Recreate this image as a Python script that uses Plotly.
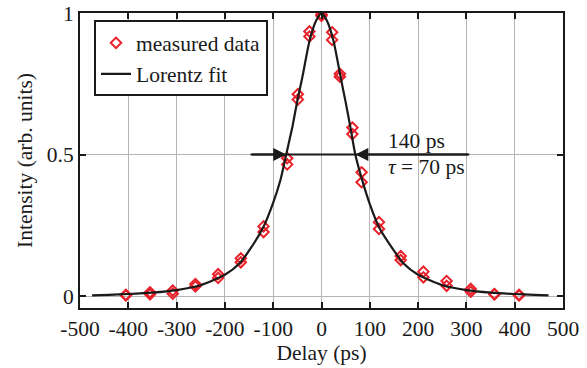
import plotly.graph_objects as go

# ---- data ----
delays = [-405, -355, -308, -261, -214, -167, -120, -71, -49, -25, 0, 22, 38, 64, 83, 119, 164, 211, 259, 309, 358, 409]
scan_a = [0.004, 0.013, 0.019, 0.042, 0.077, 0.133, 0.246, 0.487, 0.713, 0.935, 0.995, 0.932, 0.785, 0.595, 0.437, 0.261, 0.141, 0.086, 0.053, 0.025, 0.007, 0.004]
scan_b = [0.002, 0.006, 0.008, 0.034, 0.064, 0.119, 0.226, 0.465, 0.694, 0.917, 0.990, 0.905, 0.775, 0.572, 0.402, 0.237, 0.127, 0.066, 0.036, 0.015, 0.006, 0.002]

fit_delay = [-475, -440, -400, -350, -300, -250, -200, -170, -150, -120, -100, -85, -73, -60, -50, -40, -25, -12, 0,
             12, 25, 40, 50, 60, 70, 85, 100, 120, 150, 170, 200, 250, 300, 350, 400, 440, 470]
fit_intensity = [0.002, 0.004, 0.007, 0.012, 0.021, 0.038, 0.075, 0.115, 0.160, 0.245, 0.330, 0.410, 0.500, 0.600, 0.690, 0.770, 0.900, 0.970, 1.000,
                 0.970, 0.900, 0.770, 0.685, 0.595, 0.500, 0.405, 0.325, 0.240, 0.160, 0.115, 0.075, 0.038, 0.021, 0.012, 0.007, 0.004, 0.002]

x_ticks = [-500, -400, -300, -200, -100, 0, 100, 200, 300, 400, 500]
x_tick_text = ["-500", "-400", "-300", "-200", "-100", "0", "100", "200", "300", "400", "500"]
y_ticks = [0, 0.5, 1]
y_tick_text = ["0", "0.5", "1"]

half_max = 0.5
fwhm_left, fwhm_right = -73, 70
arrow_extent = [-147, 306]
label_x = 133
label_fwhm = "140 ps"
label_tau = "<i>τ</i> = 70 ps"

FONT = "Liberation Serif"
FS = 21.5
RED = "#e8212b"
INK = "#1a1a1a"

fig = go.Figure()
fig.add_trace(go.Scatter(
    x=delays + delays, y=scan_a + scan_b, mode="markers", name="measured data",
    marker=dict(symbol="diamond-open", size=8, color=RED, line=dict(color=RED, width=2)),
))
fig.add_trace(go.Scatter(
    x=fit_delay, y=fit_intensity, mode="lines", name="Lorentz fit",
    line=dict(color=INK, width=2.2, shape="spline", smoothing=0.6),
))

# horizontal FWHM line
fig.add_trace(go.Scatter(
    x=arrow_extent, y=[half_max, half_max], mode="lines", showlegend=False,
    line=dict(color=INK, width=2.2), hoverinfo="skip",
))

for head, tail in [(fwhm_left, arrow_extent[0]), (fwhm_right, arrow_extent[1])]:
    fig.add_annotation(x=head, y=half_max, ax=tail, ay=half_max, axref="x", ayref="y",
                       xref="x", yref="y", text="", showarrow=True,
                       arrowhead=2, arrowsize=1.3, arrowwidth=2, arrowcolor=INK, standoff=0)

fig.add_annotation(x=label_x, y=0.548, xref="x", yref="y", text=label_fwhm, showarrow=False,
                   xanchor="left", yanchor="middle", font=dict(family=FONT, size=FS, color=INK))
fig.add_annotation(x=label_x, y=0.455, xref="x", yref="y", text=label_tau, showarrow=False,
                   xanchor="left", yanchor="middle", font=dict(family=FONT, size=FS, color=INK))

axis_common = dict(
    showline=True, linecolor=INK, linewidth=2, mirror="ticks",
    ticks="inside", ticklen=6, tickwidth=2, tickcolor=INK,
    showgrid=True, gridcolor="#b5b5b5", gridwidth=1, zeroline=False,
    tickfont=dict(family=FONT, size=FS, color=INK), automargin=False,
    ticklabeloverflow="allow",
)

fig.update_xaxes(range=[-500, 500], tickvals=x_ticks, ticktext=x_tick_text,
                 title=dict(text="Delay (ps)", font=dict(family=FONT, size=FS, color=INK), standoff=4),
                 **axis_common)
fig.update_yaxes(range=[-0.0424, 1.0], tickvals=y_ticks, ticktext=y_tick_text,
                 title=dict(text="Intensity (arb. units)", font=dict(family=FONT, size=FS, color=INK), standoff=8),
                 **axis_common)

fig.update_layout(
    width=587, height=368,
    margin=dict(l=80, r=24, t=13, b=60),
    paper_bgcolor="white", plot_bgcolor="white",
    font=dict(family=FONT, size=FS, color=INK),
    showlegend=True,
    legend=dict(x=0.029, y=0.975, xanchor="left", yanchor="top",
                bgcolor="white", bordercolor=INK, borderwidth=2,
                font=dict(family=FONT, size=FS, color=INK),
                tracegroupgap=0, itemwidth=30),
)

# remove the default 8px page margin so the figure sits at the window's corner
fig.write_html("out.html", config={"displayModeBar": False},
               post_script="document.body.style.margin='0';")
